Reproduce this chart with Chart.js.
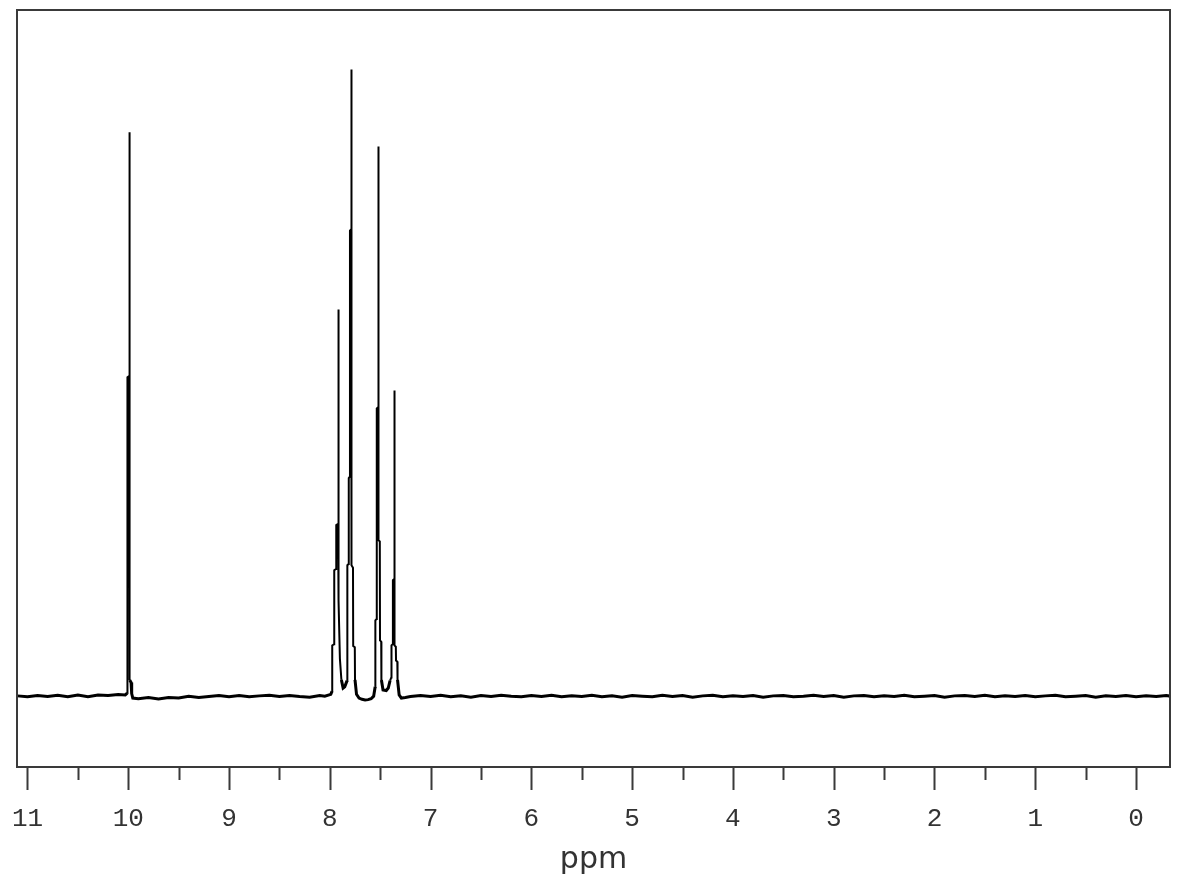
<!DOCTYPE html>
<html>
<head>
<meta charset="utf-8">
<title>1H NMR</title>
<script src="https://cdn.jsdelivr.net/npm/chart.js@4.4.1/dist/chart.umd.min.js"></script>
<style>
    html, body { margin: 0; padding: 0; background: #fff; }
    #wrap { width: 1200px; height: 890px; }
</style>
</head>
<body>
<div id="wrap"><canvas id="nmr" width="1200" height="890"></canvas></div>
<script>
'use strict';

// chemical shift (ppm) and relative intensity
var shiftPpm = [
    11.10, 11.00, 10.90, 10.80, 10.70, 10.60, 10.50, 10.40, 10.30, 10.20, 10.10, 10.03,
    10.010, 10.008, 9.990, 9.988, 9.986, 9.972, 9.966, 9.955,
    9.90, 9.80, 9.70, 9.60, 9.50, 9.40, 9.30, 9.20, 9.10, 9.00,
    8.90, 8.80, 8.70, 8.60, 8.50, 8.40, 8.30, 8.20, 8.10, 8.05,
    // 7.92 / 7.79 ppm group
    7.990, 7.978, 7.976, 7.958, 7.956, 7.938, 7.936, 7.918, 7.915, 7.912,
    7.900, 7.885, 7.868, 7.852,
    7.840, 7.828, 7.826, 7.814, 7.812, 7.802, 7.800, 7.788, 7.786, 7.784,
    7.770, 7.768, 7.752, 7.750, 7.735,
    7.71, 7.68, 7.65, 7.62, 7.59, 7.565,
    // 7.52 / 7.36 ppm group
    7.550, 7.548, 7.536, 7.534, 7.520, 7.518, 7.516, 7.504, 7.502, 7.490,
    7.488, 7.472, 7.44, 7.42,
    7.402, 7.390, 7.388, 7.376, 7.374, 7.361, 7.359, 7.357, 7.345, 7.343,
    7.330, 7.328, 7.312, 7.29, 7.25,
    7.20, 7.10, 7.00, 6.90, 6.80, 6.70, 6.60, 6.50, 6.40, 6.30,
    6.20, 6.10, 6.00, 5.90, 5.80, 5.70, 5.60, 5.50, 5.40, 5.30,
    5.20, 5.10, 5.00, 4.90, 4.80, 4.70, 4.60, 4.50, 4.40, 4.30,
    4.20, 4.10, 4.00, 3.90, 3.80, 3.70, 3.60, 3.50, 3.40, 3.30,
    3.20, 3.10, 3.00, 2.90, 2.80, 2.70, 2.60, 2.50, 2.40, 2.30,
    2.20, 2.10, 2.00, 1.90, 1.80, 1.70, 1.60, 1.50, 1.40, 1.30,
    1.20, 1.10, 1.00, 0.90, 0.80, 0.70, 0.60, 0.50, 0.40, 0.30,
    0.20, 0.10, 0.00, -0.10, -0.20, -0.30, -0.34
];
var intensity = [
    0.05, -0.1, 0.1, -0.05, 0.15, -0.1, 0.2, -0.1, 0.2, 0.1, 0.25, 0.2,
    0.5, 50.9, 51.1, 90.0, 2.6, 2.2, 0.4, -0.3,
    -0.4, -0.2, -0.45, -0.2, -0.3, 0.0, -0.2, -0.05, 0.1, -0.1,
    0.1, -0.1, 0.05, 0.15, -0.05, 0.1, -0.05, -0.15, 0.1, 0.0,
    0.3, 0.8, 8.1, 8.3, 20.1, 20.3, 27.3, 27.5, 61.7, 15.3,
    6.0, 2.6, 1.3, 1.5,
    2.0, 2.5, 20.9, 21.1, 34.8, 35.0, 74.3, 74.5, 100.0, 20.9,
    20.5, 8.0, 7.8, 2.6, 0.3,
    -0.3, -0.5, -0.6, -0.55, -0.4, 0.0,
    1.5, 12.1, 12.3, 45.9, 46.1, 87.7, 24.9, 24.7, 8.9, 8.7,
    2.6, 1.0, 0.9, 1.3,
    2.5, 3.0, 8.1, 8.3, 18.5, 18.7, 48.8, 8.1, 7.9, 5.7,
    5.5, 2.6, 0.2, -0.3, -0.2,
    -0.05, 0.1, -0.05, 0.15, -0.1, 0.05, -0.15, 0.1, -0.05, 0.15,
    0.0, -0.1, 0.1, -0.05, 0.15, -0.1, 0.05, -0.05, 0.15, -0.1,
    0.05, -0.15, 0.1, 0.0, -0.1, 0.15, -0.05, 0.1, -0.15, 0.05,
    0.15, -0.1, 0.05, -0.05, 0.1, -0.15, 0.05, 0.1, -0.1, 0.0,
    0.15, -0.05, 0.1, -0.15, 0.05, 0.1, -0.1, 0.05, -0.05, 0.15,
    -0.1, 0.0, 0.1, -0.15, 0.05, 0.1, -0.05, 0.15, -0.1, 0.05,
    -0.05, 0.1, -0.1, 0.05, 0.15, -0.1, 0.0, 0.1, -0.15, 0.05,
    -0.05, 0.1, -0.1, 0.05, -0.05, 0.1, 0.0
];

// axis range and labelled ticks
var ppmMin = -0.337;
var ppmMax = 11.104;
var yMin = -11.3;
var yMax = 109.5;
var majorTicks = [11, 10, 9, 8, 7, 6, 5, 4, 3, 2, 1, 0];

var points = shiftPpm.map(function(p, i) {
    return { x: p, y: intensity[i] };
});

// frame around the plot plus long/short tick marks below it
var framePlugin = {
    id: 'frame',
    afterDraw: function(chart) {
        var ctx = chart.ctx;
        var area = chart.chartArea;
        var scale = chart.scales.x;
        ctx.save();
        ctx.strokeStyle = '#3a3a3a';
        ctx.lineWidth = 2;
        ctx.strokeRect(area.left, area.top, area.right - area.left, area.bottom - area.top);
        ctx.beginPath();
        scale.ticks.forEach(function(t) {
            var x = Math.round(scale.getPixelForValue(t.value)) + 0.5;
            var len = majorTicks.indexOf(t.value) >= 0 ? 23 : 13;
            ctx.moveTo(x, area.bottom + 1);
            ctx.lineTo(x, area.bottom + len);
        });
        ctx.stroke();
        ctx.restore();
    }
};

new Chart(document.getElementById('nmr').getContext('2d'), {
    type: 'line',
    data: {
        datasets: [{
            data: points,
            borderColor: '#000',
            borderWidth: 2,
            pointRadius: 0,
            tension: 0,
            fill: false,
            segment: {
                borderWidth: function(c) {
                    return (Math.abs(c.p0.parsed.y) < 3 && Math.abs(c.p1.parsed.y) < 3) ? 3 : 2;
                }
            }
        }]
    },
    options: {
        responsive: false,
        animation: false,
        layout: { padding: { left: 17, right: 30, top: 10, bottom: 0 } },
        plugins: {
            legend: { display: false },
            tooltip: { enabled: false }
        },
        scales: {
            x: {
                type: 'linear',
                reverse: true,
                min: ppmMin,
                max: ppmMax,
                grid: { display: false, drawTicks: false },
                border: { display: false },
                ticks: {
                    stepSize: 0.5,
                    includeBounds: false,
                    autoSkip: false,
                    maxRotation: 0,
                    padding: 37,
                    color: '#333',
                    font: { family: 'Liberation Mono', size: 26 },
                    callback: function(v) {
                        return majorTicks.indexOf(v) >= 0 ? String(v) : '';
                    }
                },
                title: {
                    display: true,
                    text: 'ppm',
                    color: '#333',
                    font: { family: 'DejaVu Sans', size: 30 },
                    padding: { top: 0, bottom: 12 }
                },
                afterFit: function(s) {
                    s.height = 123;
                    s.paddingLeft = 0;
                    s.paddingRight = 0;
                }
            },
            y: {
                display: false,
                min: yMin,
                max: yMax
            }
        }
    },
    plugins: [framePlugin]
});
</script>
</body>
</html>
